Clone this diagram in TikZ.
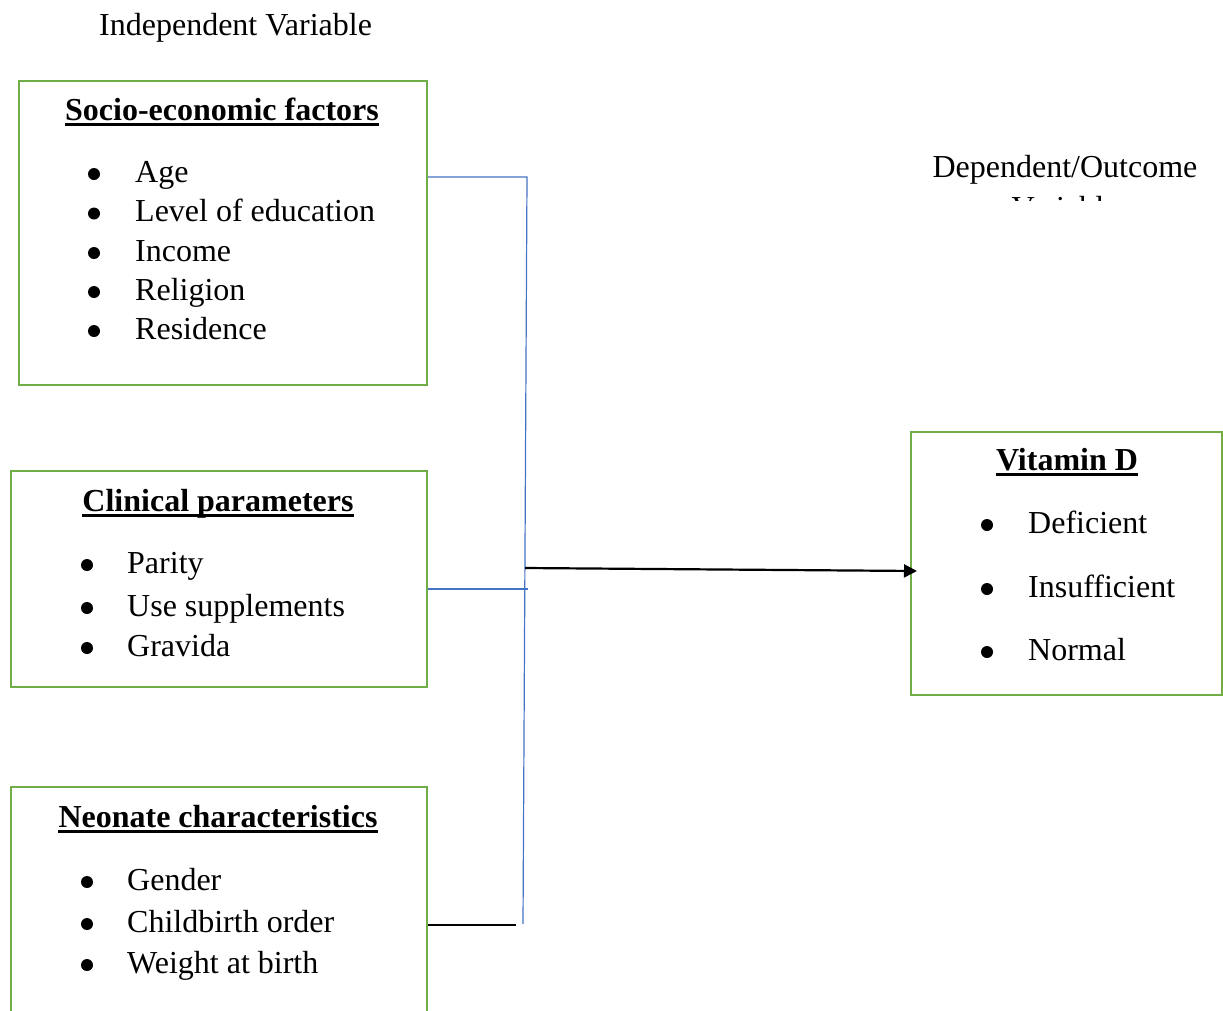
\documentclass[tikz,border=0pt]{standalone}
\usepackage{fontspec}
\setmainfont{Liberation Serif}
\usetikzlibrary{arrows.meta}
\definecolor{boxgreen}{RGB}{112,173,71}
\definecolor{linkblue}{RGB}{68,114,196}
\tikzset{
  box/.style={draw=boxgreen, line width=2pt, anchor=north west, inner sep=0pt},
  txt/.style={font=\fontsize{32}{38}\selectfont, inner sep=0pt, anchor=base west},
  head/.style={font=\fontsize{32}{38}\selectfont\bfseries, inner sep=0pt, anchor=base},
  bul/.style={circle, fill=black, inner sep=0pt, minimum size=12pt, yshift=8pt},
  uline/.style={line width=2.5pt},
  bluelink/.style={draw=linkblue, line width=1.2pt},
  blacklink/.style={draw=black, line width=2.2pt},
}
\begin{document}
\begin{tikzpicture}[x=1pt,y=-1pt]
\useasboundingbox (0,0) rectangle (1223,1010);
\clip (0,0) rectangle (1223,1010);

% titles
\node[txt] (indep) at (99,35) {Independent Variable};
\node[txt, anchor=base] (dep) at (1065,177) {Dependent/Outcome};
\begin{scope}
  \clip (900,180) rectangle (1223,200.5);
  \node[txt, anchor=base] (depvar) at (1065,218) {Variable};
\end{scope}

% Socio-economic box
\node[box, minimum width=408pt, minimum height=304pt] (socio) at (18,80) {};
\node[head] (sochead) at (222,120) {Socio-economic factors};
\draw[uline] ([yshift=-4.5pt]sochead.base west) -- ([yshift=-4.5pt]sochead.base east);
\node[bul] (sb1) at (94,182) {};
\node[txt] (st1) at (135,182) {Age};
\node[bul] (sb2) at (94,221.5) {};
\node[txt] (st2) at (135,221.5) {Level of education};
\node[bul] (sb3) at (94,261) {};
\node[txt] (st3) at (135,261) {Income};
\node[bul] (sb4) at (94,300) {};
\node[txt] (st4) at (135,300) {Religion};
\node[bul] (sb5) at (94,339) {};
\node[txt] (st5) at (135,339) {Residence};

% Clinical box
\node[box, minimum width=416pt, minimum height=216pt] (clin) at (10,470) {};
\node[head] (clinhead) at (218,511) {Clinical parameters};
\draw[uline] ([yshift=-4.5pt]clinhead.base west) -- ([yshift=-4.5pt]clinhead.base east);
\node[bul] (cb1) at (87,573) {};
\node[txt] (ct1) at (127,573) {Parity};
\node[bul] (cb2) at (87,616) {};
\node[txt] (ct2) at (127,616) {Use supplements};
\node[bul] (cb3) at (87,656) {};
\node[txt] (ct3) at (127,656) {Gravida};

% Neonate box
\node[box, minimum width=416pt, minimum height=260pt] (neo) at (10,786) {};
\node[head] (neohead) at (218,827) {Neonate characteristics};
\draw[uline] ([yshift=-4.5pt]neohead.base west) -- ([yshift=-4.5pt]neohead.base east);
\node[bul] (nb1) at (87,890) {};
\node[txt] (nt1) at (127,890) {Gender};
\node[bul] (nb2) at (87,932) {};
\node[txt] (nt2) at (127,932) {Childbirth order};
\node[bul] (nb3) at (87,973) {};
\node[txt] (nt3) at (127,973) {Weight at birth};

% Vitamin D box
\node[box, minimum width=311pt, minimum height=263pt] (vitd) at (910,431) {};
\node[head] (vithead) at (1067,470) {Vitamin D};
\draw[uline] ([yshift=-4.5pt]vithead.base west) -- ([yshift=-4.5pt]vithead.base east);
\node[bul] (vb1) at (987,533) {};
\node[txt] (vt1) at (1028,533) {Deficient};
\node[bul] (vb2) at (987,597) {};
\node[txt] (vt2) at (1028,597) {Insufficient};
\node[bul] (vb3) at (987,660) {};
\node[txt] (vt3) at (1028,660) {Normal};

% connectors
\coordinate (topcorner) at (527,177);
\coordinate (botend) at (523,924);
\coordinate (midjoin) at (528,589);
\coordinate (blackend) at (516,925);
\coordinate (arrstart) at (525,568);
\draw[bluelink] (socio.east |- topcorner) -- (topcorner) -- (botend);
\draw[bluelink] (clin.east |- midjoin) -- (midjoin);
\draw[blacklink] (neo.east |- blackend) -- (blackend);
\draw[blacklink, -{Triangle[length=13pt, width=13pt]}] (arrstart) -- ([xshift=7pt]vitd.west |- 0,571);
\end{tikzpicture}
\end{document}
